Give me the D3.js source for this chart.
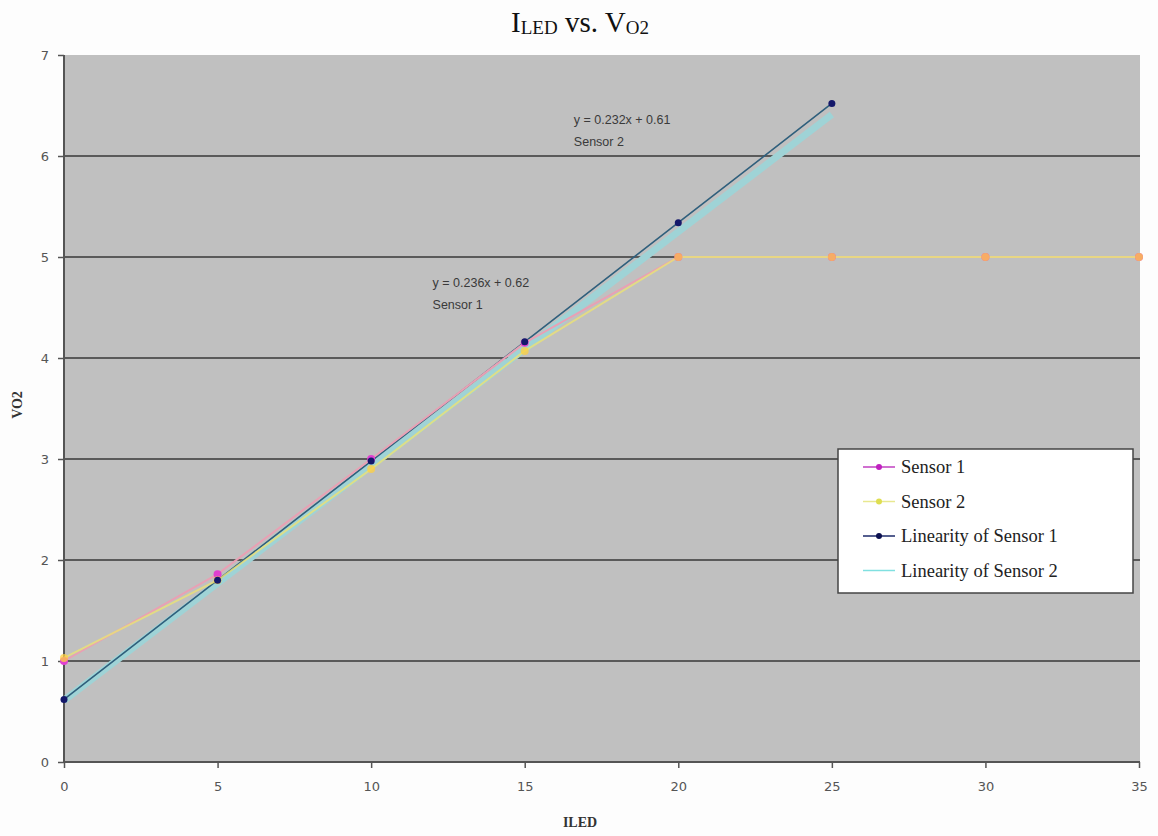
<!DOCTYPE html>
<html>
<head>
<meta charset="utf-8">
<script src="https://cdn.jsdelivr.net/npm/d3@7"></script>
<style>
  html, body { margin: 0; padding: 0; background: #fdfdfd; }
  svg { display: block; }
</style>
</head>
<body>
<svg id="chart" width="1158" height="836"></svg>
<script>
// LED current (x) and measured output voltage (y)
const iled = [0, 5, 10, 15, 20, 25, 30, 35];
const sensor1 = [1.00, 1.86, 3.00, 4.15, 5.00, 5.00, 5.00, 5.00];
const sensor2 = [1.03, 1.80, 2.90, 4.07, 5.00, 5.00, 5.00, 5.00];
// Linear fits over the linear region
const fitX = [0, 5, 10, 15, 20, 25];
const linearity1 = [0.62, 1.80, 2.98, 4.16, 5.34, 6.52];
const linearity2 = [0.61, 1.77, 2.93, 4.09, 5.25, 6.41];
const xTicks = [0, 5, 10, 15, 20, 25, 30, 35];
const yTicks = [0, 1, 2, 3, 4, 5, 6, 7];
const seriesNames = ["Sensor 1", "Sensor 2", "Linearity of Sensor 1", "Linearity of Sensor 2"];

const svg = d3.select("#chart");
const plot = { left: 64, right: 1140, top: 55, bottom: 762 };

const x = d3.scaleLinear().domain([0, 35]).range([plot.left, 1139]);
const y = d3.scaleLinear().domain([0, 7]).range([plot.bottom, plot.top]);

// Title with subscripts
const title = svg.append("text")
  .attr("x", 580).attr("y", 32)
  .attr("text-anchor", "middle")
  .attr("font-family", "Liberation Serif, Times New Roman, serif")
  .attr("font-size", 29).attr("fill", "#111");
title.append("tspan").text("I");
title.append("tspan").attr("font-size", 19).attr("dy", 2).text("LED");
title.append("tspan").attr("dy", -2).text(" vs. V");
title.append("tspan").attr("font-size", 19).attr("dy", 2).text("O2");

// Plot area
svg.append("rect")
  .attr("x", plot.left).attr("y", plot.top)
  .attr("width", plot.right - plot.left).attr("height", plot.bottom - plot.top)
  .attr("fill", "#c0c0c0");

// Horizontal gridlines
svg.append("g").selectAll("line")
  .data(yTicks.filter(d => d > 0 && d < 7))
  .join("line")
  .attr("x1", plot.left).attr("x2", plot.right)
  .attr("y1", d => y(d)).attr("y2", d => y(d))
  .attr("stroke", "#5a5a5a").attr("stroke-width", 2);

// Axes
const xAxis = svg.append("g")
  .attr("transform", `translate(0,${plot.bottom})`)
  .call(d3.axisBottom(x).tickValues(xTicks).tickFormat(d3.format("d")).tickSize(6).tickPadding(14));
const yAxis = svg.append("g")
  .attr("transform", `translate(${plot.left},0)`)
  .call(d3.axisLeft(y).tickValues(yTicks).tickFormat(d3.format("d")).tickSize(6).tickPadding(9));
[xAxis, yAxis].forEach(g => {
  g.select(".domain").attr("stroke", "#555").attr("stroke-width", 2);
  g.selectAll(".tick line").attr("stroke", "#555").attr("stroke-width", 1.5);
  g.selectAll(".tick text")
    .attr("font-family", "DejaVu Sans, Verdana, sans-serif")
    .attr("font-size", 13).attr("fill", "#555");
});
xAxis.select(".domain").attr("d", `M${plot.left},0H${plot.right}`);
yAxis.select(".domain").attr("d", `M0,${plot.bottom}V${plot.top}`);

// Axis titles
svg.append("text")
  .attr("x", 580).attr("y", 827)
  .attr("text-anchor", "middle")
  .attr("font-family", "Liberation Serif, Times New Roman, serif")
  .attr("font-weight", "bold").attr("font-size", 14).attr("fill", "#333")
  .text("ILED");
svg.append("text")
  .attr("transform", "translate(22,405) rotate(-90)")
  .attr("text-anchor", "middle")
  .attr("font-family", "Liberation Serif, Times New Roman, serif")
  .attr("font-weight", "bold").attr("font-size", 14).attr("fill", "#333")
  .text("VO2");

const line = d3.line().x(d => x(d[0])).y(d => y(d[1]));
const pairs = (xs, ys) => xs.map((v, i) => [v, ys[i]]);

// Fit lines
svg.append("path").datum(pairs(fitX, linearity2))
  .attr("d", line).attr("fill", "none")
  .attr("stroke", "#9fd3d6").attr("stroke-width", 7);
svg.append("path").datum(pairs(fitX, linearity1))
  .attr("d", line).attr("fill", "none")
  .attr("stroke", "#2f5f7c").attr("stroke-width", 1.6);

// Measured sensor lines
svg.append("path").datum(pairs(iled, sensor1))
  .attr("d", line).attr("fill", "none")
  .attr("stroke", "#e9a0b4").attr("stroke-width", 2);
svg.append("path").datum(pairs(iled, sensor2))
  .attr("d", line).attr("fill", "none")
  .attr("stroke", "#e8df7a").attr("stroke-width", 2).attr("stroke-opacity", 0.85);

// Markers
svg.append("g").selectAll("circle").data(pairs(iled, sensor1)).join("circle")
  .attr("cx", d => x(d[0])).attr("cy", d => y(d[1])).attr("r", 4)
  .attr("fill", "#e040d0");
svg.append("g").selectAll("circle").data(pairs(iled, sensor2)).join("circle")
  .attr("cx", d => x(d[0])).attr("cy", d => y(d[1])).attr("r", 4)
  .attr("fill", "#ffd040").attr("fill-opacity", 0.75);
svg.append("g").selectAll("circle").data(pairs(fitX, linearity1)).join("circle")
  .attr("cx", d => x(d[0])).attr("cy", d => y(d[1])).attr("r", 3.5)
  .attr("fill", "#14186a");

// Trendline equations
const annot = [
  { xv: 16.6, yv: 6.32, lines: ["y = 0.232x + 0.61", "Sensor 2"] },
  { xv: 12.0, yv: 4.70, lines: ["y = 0.236x + 0.62", "Sensor 1"] }
];
annot.forEach(a => {
  const t = svg.append("text")
    .attr("font-family", "Liberation Sans, Arial, sans-serif")
    .attr("font-size", 12.5).attr("fill", "#3a3a3a");
  a.lines.forEach((s, i) => {
    t.append("tspan").attr("x", x(a.xv)).attr("y", y(a.yv) + i * 22).text(s);
  });
});

// Legend
const lg = svg.append("g").attr("transform", "translate(838,449)");
lg.append("rect").attr("width", 295).attr("height", 144)
  .attr("fill", "#ffffff").attr("stroke", "#444").attr("stroke-width", 1.5);
const legendStyle = [
  { stroke: "#c040c0", dot: "#c020c0" },
  { stroke: "#e8e890", dot: "#dede50" },
  { stroke: "#1c2a6a", dot: "#0c1050" },
  { stroke: "#80e0e0", dot: null }
];
seriesNames.forEach((name, i) => {
  const yy = 18 + i * 34.5;
  const s = legendStyle[i];
  lg.append("line").attr("x1", 25).attr("x2", 57).attr("y1", yy).attr("y2", yy)
    .attr("stroke", s.stroke).attr("stroke-width", 1.5);
  if (s.dot) lg.append("circle").attr("cx", 41).attr("cy", yy).attr("r", 3).attr("fill", s.dot);
  lg.append("text").attr("x", 63).attr("y", yy + 6)
    .attr("font-family", "Liberation Serif, Times New Roman, serif")
    .attr("font-size", 18.5).attr("fill", "#222").text(name);
});
</script>
</body>
</html>
